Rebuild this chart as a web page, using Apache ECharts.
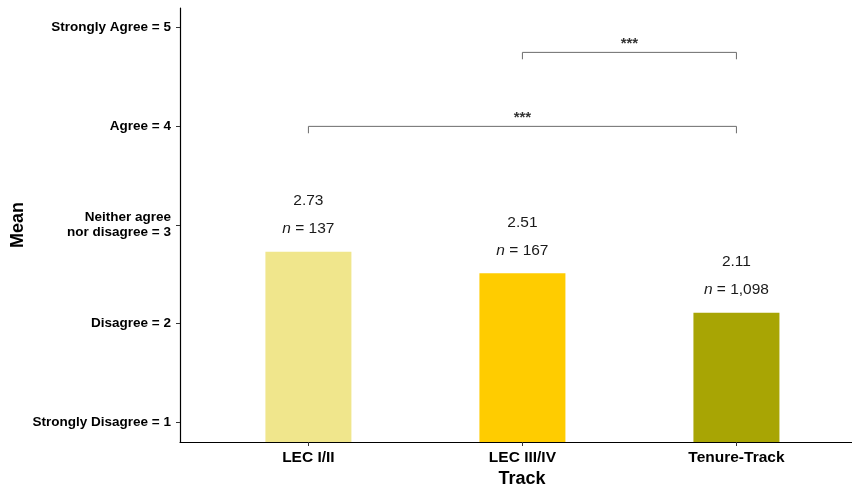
<!DOCTYPE html>
<html>
<head>
<meta charset="utf-8">
<script src="https://cdn.jsdelivr.net/npm/echarts@6/dist/echarts.min.js"></script>
<style>
  html, body { margin: 0; padding: 0; background: #ffffff; }
  #chart { width: 852px; height: 487px; }
</style>
</head>
<body>
<div id="chart"></div>
<script>
// Mean agreement by track, with group sizes and pairwise significance brackets
const categories = ['LEC I/II', 'LEC III/IV', 'Tenure-Track'];
const means = [2.73, 2.51, 2.11];
const counts = [137, 167, 1098];
const barColors = ['#F0E68C', '#FFCC00', '#A8A504'];

const yTickValues = [1, 2, 3, 4, 5];
const yTickLabels = ['Strongly Disagree = 1', 'Disagree = 2', 'Neither agree\nnor disagree = 3', 'Agree = 4', 'Strongly Agree = 5'];

// significance brackets: from category index to category index at a height
const bracketFrom = [1, 2];
const bracketTo = [3, 3];
const bracketHeight = [4.0, 4.75];
const bracketLabels = ['***', '***'];

const FONT = '"Liberation Sans", Arial, sans-serif';
const bracketDrop = 0.07;

const chart = echarts.init(document.getElementById('chart'), null, { renderer: 'canvas' });

const barData = means.map((v, i) => ({
  value: [i + 1, v],
  itemStyle: { color: barColors[i] },
  count: counts[i]
}));

const bracketSeries = bracketFrom.map((from, k) => ({
  type: 'line',
  silent: true,
  symbol: 'none',
  z: 5,
  lineStyle: { color: '#6b6b6b', width: 1 },
  data: [
    [from, bracketHeight[k] - bracketDrop],
    [from, bracketHeight[k]],
    [bracketTo[k], bracketHeight[k]],
    [bracketTo[k], bracketHeight[k] - bracketDrop]
  ]
}));

const starSeries = {
  type: 'scatter',
  silent: true,
  symbolSize: 0,
  z: 6,
  data: bracketFrom.map((from, k) => ({
    value: [(from + bracketTo[k]) / 2, bracketHeight[k]],
    name: bracketLabels[k]
  })),
  label: {
    show: true,
    position: 'inside',
    offset: [0, -9],
    formatter: p => p.name,
    fontFamily: FONT,
    fontWeight: 'bold',
    fontSize: 15,
    color: '#000000'
  }
};

chart.setOption({
  animation: false,
  backgroundColor: '#ffffff',
  grid: { left: 180, right: 0, top: 8, bottom: 45, containLabel: false, outerBoundsMode: 'none' },
  xAxis: {
    type: 'value',
    min: 0.4,
    max: 3.54,
    name: 'Track',
    nameLocation: 'middle',
    nameGap: 28,
    nameMoveOverlap: false,
    nameTextStyle: { fontFamily: FONT, fontWeight: 'bold', fontSize: 18, color: '#000000', padding: [0, 0, 0, 12] },
    axisLine: { show: true, lineStyle: { color: '#000000', width: 1.2 } },
    axisTick: { show: true, customValues: [1, 2, 3], length: 4, lineStyle: { color: '#333333' } },
    axisLabel: {
      customValues: [1, 2, 3],
      formatter: v => categories[Math.round(v) - 1] || '',
      margin: 8,
      fontFamily: FONT,
      fontWeight: 'bold',
      fontSize: 15.5,
      color: '#000000'
    },
    splitLine: { show: false }
  },
  yAxis: {
    type: 'value',
    min: 0.8,
    max: 5.2,
    name: 'Mean',
    nameLocation: 'middle',
    nameGap: 153,
    nameRotate: 90,
    nameMoveOverlap: false,
    nameTextStyle: { fontFamily: FONT, fontWeight: 'bold', fontSize: 18, color: '#000000' },
    axisLine: { show: true, lineStyle: { color: '#000000', width: 1.2 } },
    axisTick: { show: true, customValues: yTickValues, length: 4, lineStyle: { color: '#333333' } },
    axisLabel: {
      customValues: yTickValues,
      formatter: v => yTickLabels[yTickValues.indexOf(Math.round(v))] || '',
      margin: 9,
      align: 'right',
      lineHeight: 15,
      fontFamily: FONT,
      fontWeight: 'bold',
      fontSize: 13.5,
      color: '#000000'
    },
    splitLine: { show: false }
  },
  series: [
    {
      type: 'bar',
      barWidth: 86,
      data: barData,
      label: {
        show: true,
        position: 'top',
        distance: 9,
        formatter: p => '{v|' + p.value[1].toFixed(2) + '}\n{i|n}{t| = ' + p.data.count.toLocaleString('en-US') + '}',
        rich: {
          v: { fontFamily: FONT, fontSize: 15.5, color: '#1a1a1a', lineHeight: 28 },
          i: { fontFamily: FONT, fontSize: 15.5, fontStyle: 'italic', color: '#1a1a1a', lineHeight: 28 },
          t: { fontFamily: FONT, fontSize: 15.5, color: '#1a1a1a', lineHeight: 28 }
        }
      }
    },
    ...bracketSeries,
    starSeries
  ]
});
</script>
</body>
</html>
